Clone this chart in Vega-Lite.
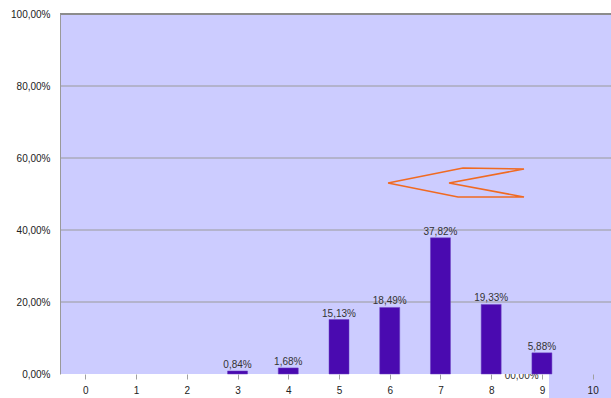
{
  "$schema": "https://vega.github.io/schema/vega-lite/v6.json",
  "width": 551,
  "height": 360,
  "autosize": {"type": "none"},
  "padding": {"left": 60, "top": 14, "right": 0, "bottom": 24},
  "background": "white",
  "config": {
    "view": {"stroke": null},
    "font": "Liberation Sans",
    "axis": {"labelFont": "Liberation Sans", "labelFontSize": 10, "labelColor": "#222222"}
  },
  "datasets": {
    "bars": [
      {"score": 3, "pct": 0.84},
      {"score": 4, "pct": 1.68},
      {"score": 5, "pct": 15.13},
      {"score": 6, "pct": 18.49},
      {"score": 7, "pct": 37.82},
      {"score": 8, "pct": 19.33},
      {"score": 9, "pct": 5.88}
    ],
    "hidden": [{"score": 8.6, "pct": -1.3, "label": "00,00%"}],
    "panel": [{"x1": -0.5, "x2": 10.362, "y1": 0, "y2": 100}],
    "tail": [{"x1": 9.14, "x2": 10.362, "y1": 0, "y2": -6.67}],
    "grid": [{"y": 20}, {"y": 40}, {"y": 60}, {"y": 80}],
    "top": [{"y": 100}],
    "arrow": [
      {"o": 1, "px": 5.966, "py": 53.06},
      {"o": 2, "px": 7.444, "py": 57.22},
      {"o": 3, "px": 8.647, "py": 56.94},
      {"o": 4, "px": 7.169, "py": 53.06},
      {"o": 5, "px": 8.647, "py": 49.17},
      {"o": 6, "px": 7.346, "py": 49.17},
      {"o": 7, "px": 5.966, "py": 53.06}
    ]
  },
  "layer": [
    {
      "data": {"name": "hidden"},
      "mark": {"type": "text", "baseline": "alphabetic", "fontSize": 10, "color": "#333333"},
      "encoding": {
        "x": {"field": "score", "type": "quantitative",
          "scale": {"domain": [-0.5, 10.362], "nice": false, "zero": false, "padding": 0},
          "axis": {"title": null, "values": [0,1,2,3,4,5,6,7,8,9,10], "format": "d", "grid": false, "domain": false, "tickColor": "#A0A0A0", "tickSize": 5, "labelPadding": 6, "zindex": 1}
        },
        "y": {"field": "pct", "type": "quantitative",
          "scale": {"domain": [0, 100], "nice": false, "zero": false, "padding": 0},
          "axis": {"title": null, "values": [0,20,40,60,80,100], "grid": false, "ticks": false, "domainColor": "#9A9A9A", "labelPadding": 10, "zindex": 1,
            "labelExpr": "replace(format(datum.value, '.2f'), '.', ',') + '%'"}
        },
        "text": {"field": "label"}
      }
    },
    {
      "data": {"name": "panel"},
      "mark": {"type": "rect", "color": "#CCCCFF"},
      "encoding": {
        "x": {"field": "x1", "type": "quantitative"},
        "x2": {"field": "x2"},
        "y": {"field": "y1", "type": "quantitative"},
        "y2": {"field": "y2"}
      }
    },
    {
      "data": {"name": "tail"},
      "mark": {"type": "rect", "color": "#CCCCFF"},
      "encoding": {
        "x": {"field": "x1", "type": "quantitative"},
        "x2": {"field": "x2"},
        "y": {"field": "y1", "type": "quantitative"},
        "y2": {"field": "y2"}
      }
    },
    {
      "data": {"name": "grid"},
      "mark": {"type": "rule", "color": "#9A9A9A", "strokeWidth": 1},
      "encoding": {"y": {"field": "y", "type": "quantitative"}}
    },
    {
      "data": {"name": "top"},
      "mark": {"type": "rule", "color": "#8C8C8C", "strokeWidth": 2},
      "encoding": {"y": {"field": "y", "type": "quantitative"}}
    },
    {
      "data": {"name": "bars"},
      "mark": {"type": "bar", "color": "#4A0AB0", "size": 20, "stroke": "#6A40C0", "strokeWidth": 0.5},
      "encoding": {
        "x": {"field": "score", "type": "quantitative"},
        "y": {"field": "pct", "type": "quantitative"}
      }
    },
    {
      "data": {"name": "bars"},
      "mark": {"type": "text", "baseline": "bottom", "dy": -1, "fontSize": 10, "color": "#333333"},
      "encoding": {
        "x": {"field": "score", "type": "quantitative"},
        "y": {"field": "pct", "type": "quantitative"},
        "text": {"field": "label", "type": "nominal"}
      },
      "transform": [{"calculate": "replace(format(datum.pct, '.2f'), '.', ',') + '%'", "as": "label"}]
    },
    {
      "data": {"name": "arrow"},
      "mark": {"type": "line", "color": "#F06A22", "strokeWidth": 1.5},
      "encoding": {
        "x": {"field": "px", "type": "quantitative"},
        "y": {"field": "py", "type": "quantitative"},
        "order": {"field": "o", "type": "quantitative"}
      }
    }
  ]
}
